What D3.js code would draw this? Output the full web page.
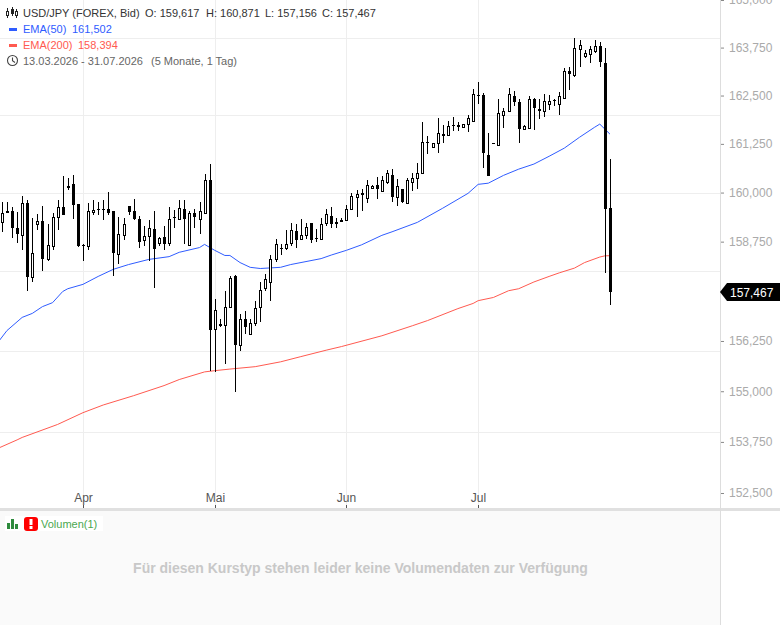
<!DOCTYPE html>
<html>
<head>
<meta charset="utf-8">
<style>
    html, body { margin: 0; padding: 0; background: #fff; }
    svg { display: block; font-family: "Liberation Sans", Arial, sans-serif; }
</style>
<script src="https://cdn.jsdelivr.net/npm/d3@7"></script>
</head>
<body>
<div id="chart"></div>
<script>
// USD/JPY daily candles, one entry per bar
const opens = [
    159.25,159.52,159.52,159.10,158.93,159.74,157.85,159.21,159.28,158.31,
    158.64,159.38,159.64,160.16,160.21,159.72,158.67,158.64,159.50,159.59,
    159.59,159.59,159.52,158.43,158.93,159.65,159.54,159.33,158.80,158.89,
    159.08,158.72,158.87,158.72,159.38,159.33,159.59,158.67,159.49,159.33,
    159.49,160.33,156.55,156.66,156.65,157.09,157.87,156.16,156.80,156.42,
    156.69,157.09,157.57,157.72,158.32,158.59,158.58,158.71,159.01,158.81,
    158.92,159.23,158.84,158.82,159.22,159.41,159.24,159.28,159.31,159.58,
    159.88,159.99,159.86,160.12,160.20,160.04,160.28,160.46,159.88,160.08,
    159.73,160.28,160.37,160.49,161.31,161.18,161.28,161.50,161.47,161.73,
    161.73,161.69,161.75,161.84,162.51,162.51,160.97,161.27,161.22,162.00,
    162.10,162.48,162.32,161.64,161.66,162.40,162.14,162.09,162.29,162.38,
    162.28,162.44,163.14,163.04,163.72,163.54,163.59,163.66,163.79,163.36,
    159.617
];
const highs = [
    159.76,159.76,159.63,159.50,159.90,159.82,159.36,159.46,159.65,159.19,
    159.49,159.82,160.42,160.37,160.44,159.72,158.68,159.73,159.82,159.76,
    159.82,160.02,159.52,159.37,159.35,159.65,159.84,159.40,159.14,159.29,
    159.52,158.88,159.16,159.62,159.56,159.82,159.82,159.54,159.58,159.77,
    160.47,160.73,157.31,156.80,157.51,157.89,157.91,156.93,156.99,156.81,
    157.26,157.72,157.94,158.40,158.82,158.69,159.05,159.23,159.21,159.33,
    159.23,159.23,159.08,159.36,159.57,159.63,159.35,159.36,159.67,159.99,
    160.06,160.08,160.33,160.20,160.40,160.42,160.57,160.60,160.36,160.08,
    160.38,160.49,160.77,161.81,161.45,161.28,161.91,161.73,161.84,161.95,
    161.82,161.75,161.99,162.67,162.84,162.57,161.52,161.27,162.42,162.17,
    162.69,162.61,162.41,161.74,162.48,162.44,162.40,162.53,162.51,162.41,
    162.58,163.22,163.23,164.00,163.95,163.69,163.80,163.95,163.90,163.75,
    160.871
];
const lows = [
    158.99,159.47,158.84,158.71,158.55,157.50,157.72,159.05,158.00,158.26,
    158.55,159.04,159.44,160.06,159.32,158.61,158.26,158.53,159.42,159.42,
    159.29,159.44,157.87,158.18,158.78,159.44,159.29,158.59,158.64,158.26,
    157.58,158.65,158.53,158.65,159.10,159.31,158.69,158.66,159.10,158.95,
    159.48,155.51,155.47,156.59,155.68,157.07,154.99,156.01,156.43,156.42,
    156.63,156.72,157.50,157.24,158.23,158.42,158.53,158.63,158.59,158.78,
    158.82,158.72,158.75,158.81,159.16,159.09,159.09,159.25,159.28,159.58,
    159.37,159.54,159.73,160.12,159.83,160.03,160.23,159.76,159.65,159.74,
    159.72,160.04,160.10,160.49,161.00,161.18,161.02,161.28,161.46,161.58,
    161.58,161.69,161.56,161.82,162.29,160.63,160.42,161.25,161.22,161.66,
    162.08,162.22,161.27,161.63,161.66,161.60,161.90,161.95,162.12,162.22,
    162.00,162.44,162.64,162.99,163.25,163.47,163.34,163.62,163.23,157.95,
    157.156
];
const closes = [
    159.47,159.48,159.09,158.95,159.74,157.85,158.47,159.28,158.32,158.67,
    159.38,159.64,159.44,160.12,159.67,158.65,158.64,159.52,159.56,159.55,
    159.57,159.49,158.46,158.95,159.21,159.50,159.32,158.74,158.90,159.10,
    158.57,158.85,158.68,159.33,159.37,159.61,159.32,159.49,159.37,159.54,
    160.33,156.53,157.03,156.68,157.11,157.84,156.16,156.80,156.59,156.70,
    157.08,157.53,157.81,158.32,158.69,158.56,158.69,159.05,158.78,158.93,
    159.13,158.79,158.82,159.21,159.46,159.20,159.21,159.30,159.59,159.90,
    159.97,159.95,160.20,160.17,160.08,160.31,160.49,159.88,160.18,159.76,
    160.31,160.38,160.49,161.31,161.27,161.28,161.52,161.46,161.72,161.71,
    161.69,161.75,161.91,162.54,162.48,161.02,160.42,161.25,162.04,162.11,
    162.53,162.34,161.64,161.70,162.40,162.18,162.11,162.35,162.35,162.35,
    162.48,163.13,163.06,163.73,163.82,163.62,163.70,163.79,163.38,159.59,
    157.467
];

const ema50Bars = [-1,1,4,6,8,10,12,13,16,19,22,25,29,33,35,39,40,42,44,45,47,49,51,55,57,63,65,68,71,75,77,82,87,92,94,96,99,102,105,108,111,114,117,118,120];
const ema50Vals = [156.18,156.51,156.84,156.94,157.11,157.21,157.49,157.56,157.67,157.87,158.05,158.17,158.30,158.37,158.48,158.60,158.68,158.53,158.40,158.40,158.22,158.10,158.07,158.10,158.17,158.32,158.41,158.53,158.67,158.91,159.00,159.24,159.60,159.98,160.21,160.24,160.44,160.60,160.73,160.93,161.14,161.42,161.68,161.76,161.502];
const ema200Bars = [-1,3,4,11,16,20,26,32,35,40,42,45,50,55,59,64,67,75,81,84,90,93,94,97,100,102,105,108,110,113,115,118,119,120];
const ema200Vals = [153.58,153.80,153.86,154.18,154.47,154.66,154.89,155.14,155.29,155.48,155.51,155.55,155.61,155.73,155.86,156.02,156.11,156.38,156.63,156.76,157.06,157.19,157.26,157.34,157.51,157.56,157.73,157.87,157.96,158.08,158.22,158.36,158.39,158.394];

const monthLabels = ["Apr", "Mai", "Jun", "Jul"];
const monthBars = [16, 42, 68, 94];
const priceTicks = [165, 163.75, 162.5, 161.25, 160, 158.75, 156.25, 155, 153.75, 152.5];
const gridPrices = [164, 162, 160, 158, 156, 154];
const lastPrice = 157.467;

const width = 780, height = 625;
const plotRight = 720, plotBottom = 508;

const svg = d3.select("#chart").append("svg")
    .attr("width", width)
    .attr("height", height);

const x = d3.scaleLinear().domain([0, 120]).range([1.9, 609.9]);
const y = d3.scaleLog().domain([152.5, 165]).range([493, 0]);
const deLocale = d3.formatLocale({ decimal: ",", thousands: ".", grouping: [3], currency: ["", ""] });
const fmt = deLocale.format(".3f");
const cx = i => Math.round(x(i)) + 0.5;

// grid
svg.append("g").selectAll("line").data(gridPrices).enter().append("line")
    .attr("x1", 0).attr("x2", plotRight)
    .attr("y1", d => Math.round(y(d)) + 0.5).attr("y2", d => Math.round(y(d)) + 0.5)
    .attr("stroke", "#eeeeee");
svg.append("g").selectAll("line").data(monthBars).enter().append("line")
    .attr("x1", cx).attr("x2", cx)
    .attr("y1", 0).attr("y2", plotBottom)
    .attr("stroke", "#eeeeee");

// moving averages go under the candles
const line = d3.line().x(d => x(d[0])).y(d => y(d[1]));
svg.append("path")
    .datum(d3.zip(ema200Bars, ema200Vals))
    .attr("d", line).attr("fill", "none").attr("stroke", "#ff5a50").attr("stroke-width", 1);
svg.append("path")
    .datum(d3.zip(ema50Bars, ema50Vals))
    .attr("d", line).attr("fill", "none").attr("stroke", "#2f5cff").attr("stroke-width", 1);

// candles
const candles = svg.append("g").selectAll("g").data(d3.range(opens.length)).enter().append("g");
candles.append("line")
    .attr("x1", cx).attr("x2", cx)
    .attr("y1", i => Math.round(y(highs[i])))
    .attr("y2", i => Math.round(y(lows[i])))
    .attr("stroke", "#000");
candles.append("rect")
    .attr("x", i => closes[i] > opens[i] ? cx(i) - 1 : cx(i) - 1.5)
    .attr("width", i => closes[i] > opens[i] ? 2 : 3)
    .attr("y", i => {
        const top = Math.round(y(Math.max(opens[i], closes[i])));
        return closes[i] > opens[i] ? top + 0.5 : top;
    })
    .attr("height", i => {
        const h = Math.round(y(Math.min(opens[i], closes[i]))) - Math.round(y(Math.max(opens[i], closes[i])));
        return Math.max(1, h);
    })
    .attr("fill", i => closes[i] > opens[i] ? "#fff" : "#000")
    .attr("stroke", i => closes[i] > opens[i] ? "#000" : "none");

// price axis
const yAxis = d3.axisRight(y).tickValues(priceTicks).tickSize(4).tickPadding(5).tickFormat(fmt);
const yG = svg.append("g").attr("transform", `translate(${plotRight},0)`).call(yAxis);
yG.select(".domain").remove();
yG.selectAll("line").attr("stroke", "#888");
yG.selectAll("text").attr("fill", "#aaaaaa").style("font-size", "12px").style("font-family", "'Liberation Sans', Arial, sans-serif");

// month axis
const xAxis = d3.axisBottom(x).tickValues(monthBars).tickSize(3)
    .tickFormat((d, i) => monthLabels[i]);
const xG = svg.append("g").attr("transform", `translate(0,${plotBottom - 3})`).call(xAxis);
xG.select(".domain").remove();
xG.selectAll(".tick").attr("transform", d => `translate(${cx(d)},0)`);
xG.selectAll("line").attr("stroke", "#555");
xG.selectAll("text").attr("y", -3.5).attr("dy", 0).attr("fill", "#555")
    .style("font-size", "12px").style("font-family", "'Liberation Sans', Arial, sans-serif");

// lower pane
svg.append("rect").attr("x", 0).attr("y", 511).attr("width", plotRight).attr("height", height - 511).attr("fill", "#fafafa");
svg.append("rect").attr("x", 0).attr("y", 508).attr("width", width).attr("height", 3).attr("fill", "#e0e0e0");
svg.append("line").attr("x1", plotRight + 0.5).attr("x2", plotRight + 0.5).attr("y1", 0).attr("y2", height).attr("stroke", "#dddddd");

// last price bubble
const lastY = Math.round(y(lastPrice));
svg.append("path")
    .attr("d", `M${plotRight},${lastY} l7,-9 h53 v18 h-53 z`)
    .attr("fill", "#000");
svg.append("text").attr("x", 730).attr("y", lastY + 4.5)
    .attr("fill", "#fff").style("font-size", "12px").text(fmt(lastPrice));

// top left legend
function label(xp, yp, txt, color) {
    return svg.append("text").attr("x", xp).attr("y", yp)
        .attr("fill", color).style("font-size", "11px").text(txt);
}
label(23, 16.5, "USD/JPY (FOREX, Bid)", "#333");
label(145, 16.5, "O: 159,617", "#333");
label(206, 16.5, "H: 160,871", "#333");
label(265, 16.5, "L: 157,156", "#333");
label(322, 16.5, "C: 157,467", "#333");
label(23, 32.5, "EMA(50)", "#2f5cff");
label(72, 32.5, "161,502", "#2f5cff");
label(23, 48.5, "EMA(200)", "#ff5a50");
label(78, 48.5, "158,394", "#ff5a50");
label(23, 64.5, "13.03.2026 - 31.07.2026", "#666");
label(151, 64.5, "(5 Monate, 1 Tag)", "#666");

svg.append("rect").attr("x", 9).attr("y", 28).attr("width", 8).attr("height", 3).attr("fill", "#2f5cff");
svg.append("rect").attr("x", 9).attr("y", 44).attr("width", 8).attr("height", 3).attr("fill", "#ff5a50");

// little candle icon
const icon = svg.append("g").attr("stroke", "#222").attr("fill", "none");
icon.append("path").attr("d", "M7.5,8 V18 M12.5,7 V16 M16.5,9 V18");
icon.append("rect").attr("x", 6.5).attr("y", 11.5).attr("width", 2).attr("height", 4).attr("fill", "#fff");
icon.append("rect").attr("x", 11.5).attr("y", 9.5).attr("width", 2).attr("height", 4).attr("fill", "#222");
icon.append("rect").attr("x", 15.5).attr("y", 11.5).attr("width", 2).attr("height", 4).attr("fill", "#fff");

// clock icon
const clock = svg.append("g").attr("stroke", "#444").attr("fill", "none").attr("stroke-width", 1.1);
clock.append("circle").attr("cx", 12.5).attr("cy", 60.5).attr("r", 5);
clock.append("path").attr("d", "M12.5,57.5 V60.8 L15,62.5");

// volume legend
svg.append("rect").attr("x", 5).attr("y", 516).attr("width", 98).attr("height", 15).attr("fill", "#fff");
svg.append("g").attr("fill", "#2e8b3d").selectAll("rect").data([[7, 523, 3, 6], [11, 519, 3, 10], [15, 524, 3, 5]]).enter().append("rect")
    .attr("x", d => d[0]).attr("y", d => d[1]).attr("width", d => d[2]).attr("height", d => d[3]);
svg.append("rect").attr("x", 24).attr("y", 517).attr("width", 14).attr("height", 14).attr("rx", 3).attr("fill", "#f00");
svg.append("rect").attr("x", 29.5).attr("y", 519).attr("width", 3).attr("height", 6).attr("fill", "#fff");
svg.append("rect").attr("x", 29.5).attr("y", 526).attr("width", 3).attr("height", 3).attr("fill", "#fff");
label(41, 527.5, "Volumen(1)", "#4aa84f");

svg.append("text").attr("x", 360.5).attr("y", 573).attr("text-anchor", "middle")
    .attr("fill", "#c8c8c8").style("font-size", "14px").style("font-weight", "bold")
    .text("Für diesen Kurstyp stehen leider keine Volumendaten zur Verfügung");
</script>
</body>
</html>
